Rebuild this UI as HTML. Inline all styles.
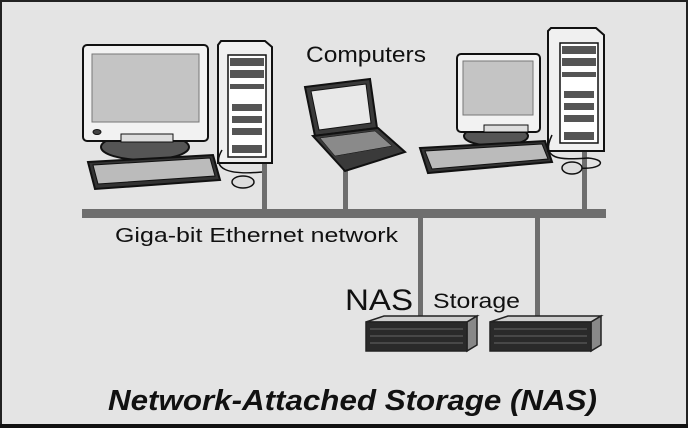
<!DOCTYPE html>
<html><head><style>
html,body{margin:0;padding:0;background:#e4e4e4;}
svg{display:block;}
text{font-family:"Liberation Sans",Arial,sans-serif;fill:#111;}
</style></head><body>
<svg width="688" height="428" viewBox="0 0 688 428" xmlns="http://www.w3.org/2000/svg">
<rect x="0" y="0" width="688" height="428" fill="#e4e4e4"/>
<rect x="1" y="1" width="686" height="426" fill="none" stroke="#222" stroke-width="2"/>
<rect x="0" y="424" width="688" height="4" fill="#111"/>

<!-- bus & drops -->
<g fill="#6e6e6e">
<rect x="82" y="209" width="524" height="9"/>
<rect x="262" y="160" width="5" height="50"/>
<rect x="343" y="168" width="5" height="42"/>
<rect x="582" y="150" width="5" height="60"/>
<rect x="418" y="217" width="5" height="100"/>
<rect x="535" y="217" width="5" height="100"/>
</g>

<!-- left computer -->
<g stroke="#111" stroke-width="2">
<ellipse cx="145" cy="147" rx="44" ry="13" fill="#555"/>
<rect x="83" y="45" width="125" height="96" rx="4" fill="#f2f2f2"/>
<rect x="92" y="54" width="107" height="68" fill="#c4c4c4" stroke="#777" stroke-width="1"/>
<rect x="121" y="134" width="52" height="8" fill="#ddd" stroke-width="1"/>
<ellipse cx="97" cy="132" rx="4" ry="2.5" fill="#444" stroke-width="1"/>
<polygon points="88,162 213,155 220,180 95,189" fill="#333"/>
<polygon points="93,165 210,158 215,176 98,184" fill="#bbb" stroke-width="1"/>
<polygon points="218,45 221,41 265,41 272,47 272,163 218,163" fill="#f0f0f0"/>
<rect x="228" y="55" width="38" height="102" fill="#fff" stroke-width="1.5"/>
</g>
<g fill="#555">
<rect x="230" y="58" width="34" height="8"/><rect x="230" y="70" width="34" height="8"/>
<rect x="230" y="84" width="34" height="5"/>
<rect x="232" y="104" width="30" height="7"/><rect x="232" y="116" width="30" height="7"/>
<rect x="232" y="128" width="30" height="7"/><rect x="232" y="145" width="30" height="8"/>
</g>
<path d="M222,150 C210,170 230,175 262,172" fill="none" stroke="#111" stroke-width="1.5"/>
<ellipse cx="243" cy="182" rx="11" ry="6" fill="#ddd" stroke="#111" stroke-width="1.5"/>

<!-- laptop -->
<g stroke="#111" stroke-width="2">
<polygon points="305,87 370,79 377,128 315,136" fill="#3a3a3a"/>
<polygon points="311,91 366,84 371,123 319,130" fill="#e8e8e8" stroke-width="1"/>
<polygon points="313,136 378,128 405,152 345,171" fill="#3a3a3a"/>
<polygon points="320,138 375,131 392,146 335,156" fill="#8a8a8a" stroke-width="0.5"/>
</g>

<!-- right computer -->
<g stroke="#111" stroke-width="2">
<ellipse cx="496" cy="136" rx="32" ry="10" fill="#555"/>
<rect x="457" y="54" width="83" height="78" rx="4" fill="#f2f2f2"/>
<rect x="463" y="61" width="70" height="54" fill="#c4c4c4" stroke="#777" stroke-width="1"/>
<rect x="484" y="125" width="44" height="7" fill="#ddd" stroke-width="1"/>
<polygon points="420,148 545,141 552,162 428,173" fill="#333"/>
<polygon points="425,151 542,144 548,159 432,169" fill="#bbb" stroke-width="1"/>
<polygon points="548,31 551,28 596,28 604,35 604,151 548,151" fill="#f0f0f0"/>
<rect x="560" y="43" width="38" height="100" fill="#fff" stroke-width="1.5"/>
</g>
<g fill="#555">
<rect x="562" y="46" width="34" height="8"/><rect x="562" y="58" width="34" height="8"/>
<rect x="562" y="72" width="34" height="5"/>
<rect x="564" y="91" width="30" height="7"/><rect x="564" y="103" width="30" height="7"/>
<rect x="564" y="115" width="30" height="7"/><rect x="564" y="132" width="30" height="8"/>
</g>
<path d="M552,135 C540,160 560,160 588,158 C610,160 600,170 580,168" fill="none" stroke="#111" stroke-width="1.5"/>
<ellipse cx="572" cy="168" rx="10" ry="6" fill="#ddd" stroke="#111" stroke-width="1.5"/>

<!-- NAS boxes -->
<g stroke="#222" stroke-width="1.5">
<polygon points="366,322 384,316 477,316 467,322" fill="#cfcfcf"/>
<polygon points="467,322 477,316 477,345 467,351" fill="#888"/>
<rect x="366" y="322" width="101" height="29" fill="#2a2a2a"/>
<polygon points="490,322 508,316 601,316 591,322" fill="#cfcfcf"/>
<polygon points="591,322 601,316 601,345 591,351" fill="#888"/>
<rect x="490" y="322" width="101" height="29" fill="#2a2a2a"/>
</g>
<g stroke="#666" stroke-width="1">
<line x1="370" y1="329" x2="463" y2="329"/><line x1="370" y1="336" x2="463" y2="336"/><line x1="370" y1="343" x2="463" y2="343"/>
<line x1="494" y1="329" x2="587" y2="329"/><line x1="494" y1="336" x2="587" y2="336"/><line x1="494" y1="343" x2="587" y2="343"/>
</g>

<!-- labels -->
<text x="306" y="62" font-size="22" textLength="120" lengthAdjust="spacingAndGlyphs">Computers</text>
<text x="115" y="242" font-size="20" textLength="283" lengthAdjust="spacingAndGlyphs">Giga-bit Ethernet network</text>
<text x="345" y="310" font-size="30" textLength="68" lengthAdjust="spacingAndGlyphs">NAS</text>
<text x="433" y="308" font-size="21" textLength="87" lengthAdjust="spacingAndGlyphs">Storage</text>
<text x="108" y="410" font-size="29" font-weight="bold" font-style="italic" textLength="489" lengthAdjust="spacingAndGlyphs">Network-Attached Storage (NAS)</text>
</svg>
</body></html>
